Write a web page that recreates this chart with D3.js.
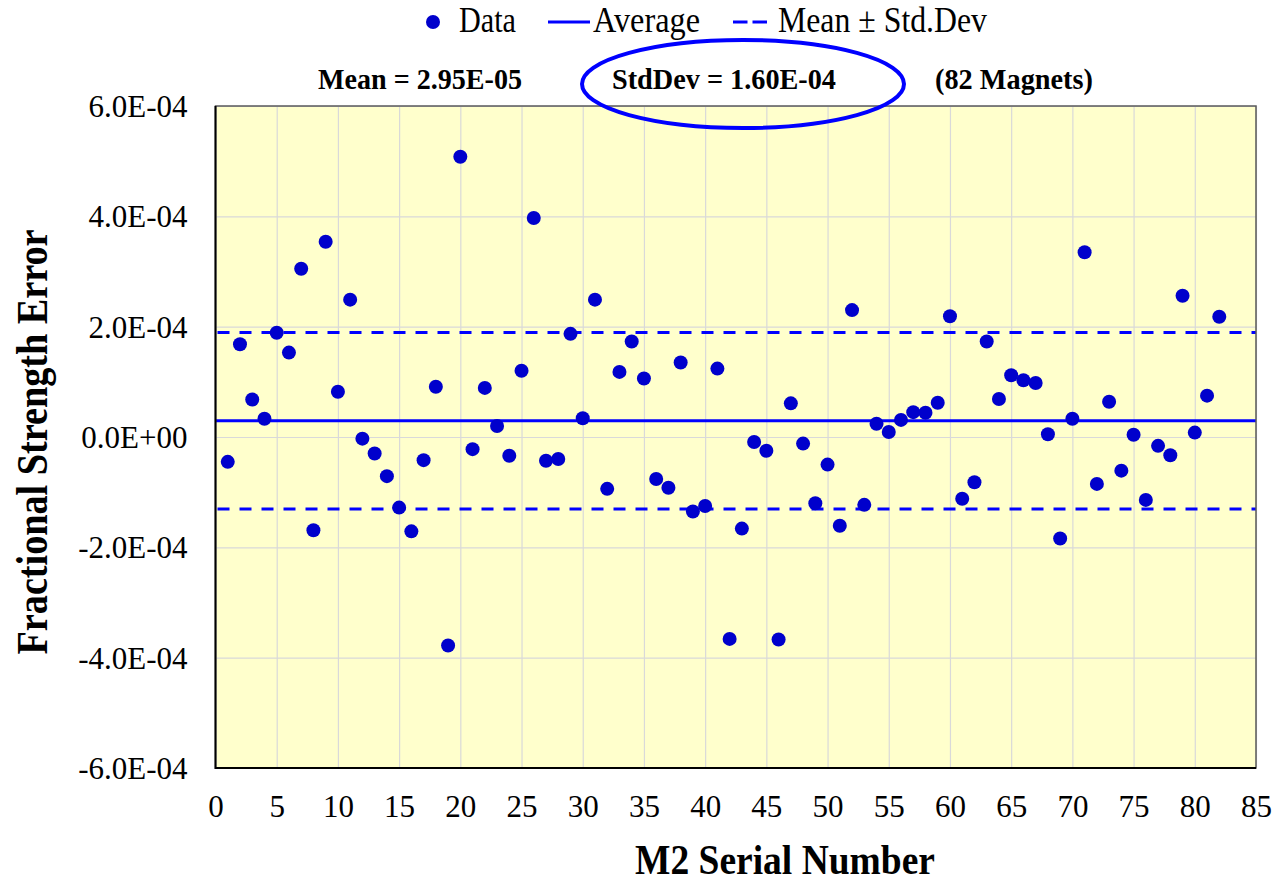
<!DOCTYPE html>
<html>
<head>
<meta charset="utf-8">
<title>M2 Fractional Strength Error</title>
<script src="https://cdn.jsdelivr.net/npm/d3@7"></script>
<style>
  body { margin: 0; background: #fff; }
  svg text { font-family: "Liberation Serif", "Times New Roman", "DejaVu Serif", serif; fill: #000; }
</style>
</head>
<body>
<div id="chart"></div>
<script>
// serial numbers 1..82
var serials = d3.range(1, 83);
// fractional strength error, in units of 1E-04
var errorE4 = [
  -0.45, 1.68, 0.68, 0.33, 1.89, 1.53, 3.05, -1.69, 3.54, 0.82,
   2.49, -0.03, -0.30, -0.71, -1.28, -1.71, -0.42, 0.91, -3.78, 5.08,
  -0.22, 0.89, 0.20, -0.34, 1.20, 3.97, -0.43, -0.40, 1.87, 0.34,
   2.49, -0.94, 1.18, 1.73, 1.06, -0.76, -0.92, 1.35, -1.35, -1.25,
   1.24, -3.66, -1.66, -0.09, -0.25, -3.67, 0.61, -0.12, -1.20, -0.50,
  -1.61, 2.30, -1.23, 0.24, 0.09, 0.31, 0.45, 0.44, 0.62, 2.19,
  -1.12, -0.82, 1.73, 0.69, 1.12, 1.03, 0.98, 0.05, -1.84, 0.33,
   3.35, -0.85, 0.64, -0.61, 0.04, -1.14, -0.16, -0.33, 2.56, 0.08,
   0.75, 2.18
];
var meanE4 = 0.295;   // Mean = 2.95E-05
var stdE4 = 1.60;     // StdDev = 1.60E-04

var xTicks = d3.range(0, 90, 5);
var yTicks = [-6, -4, -2, 0, 2, 4, 6];
var yTickLabels = ["-6.0E-04", "-4.0E-04", "-2.0E-04", "0.0E+00", "2.0E-04", "4.0E-04", "6.0E-04"];

var width = 1277, height = 884;
var plot = {left: 215.5, right: 1256, top: 106, bottom: 768};
var serif = "Liberation Serif";

var svg = d3.select("#chart").append("svg")
  .attr("width", width)
  .attr("height", height);

var x = d3.scaleLinear().domain([0, 85]).range([plot.left, plot.right]);
var y = d3.scaleLinear().domain([-6, 6]).range([plot.bottom, plot.top]);

// plot background
svg.append("rect")
  .attr("x", plot.left).attr("y", plot.top)
  .attr("width", plot.right - plot.left)
  .attr("height", plot.bottom - plot.top)
  .attr("fill", "#FFFFCC");

// gridlines
svg.append("g")
  .attr("transform", "translate(0," + plot.bottom + ")")
  .call(d3.axisBottom(x).tickValues(xTicks).tickSize(-(plot.bottom - plot.top)).tickFormat(""))
  .call(function(g) {
    g.select(".domain").remove();
    g.selectAll("line").attr("stroke", "#D9D9D9").attr("stroke-width", 1.2);
  });
svg.append("g")
  .attr("transform", "translate(" + plot.left + ",0)")
  .call(d3.axisLeft(y).tickValues(yTicks).tickSize(-(plot.right - plot.left)).tickFormat(""))
  .call(function(g) {
    g.select(".domain").remove();
    g.selectAll("line").attr("stroke", "#D9D9D9").attr("stroke-width", 1.2);
  });

// average and mean +/- std dev lines
svg.append("line")
  .attr("x1", plot.left).attr("x2", plot.right)
  .attr("y1", y(meanE4)).attr("y2", y(meanE4))
  .attr("stroke", "#0000FF").attr("stroke-width", 3);
[meanE4 + stdE4, meanE4 - stdE4].forEach(function(v) {
  svg.append("line")
    .attr("x1", plot.left + 2).attr("x2", plot.right)
    .attr("y1", y(v)).attr("y2", y(v))
    .attr("stroke", "#0000FF").attr("stroke-width", 3)
    .attr("stroke-dasharray", "12,10");
});

// data points
svg.append("g").selectAll("circle")
  .data(errorE4)
  .enter().append("circle")
    .attr("cx", function(d, i) { return x(serials[i]); })
    .attr("cy", function(d) { return y(d); })
    .attr("r", 7)
    .attr("fill", "#0000CC");

// plot border
svg.append("rect")
  .attr("x", plot.left).attr("y", plot.top)
  .attr("width", plot.right - plot.left)
  .attr("height", plot.bottom - plot.top)
  .attr("fill", "none")
  .attr("stroke", "#595959").attr("stroke-width", 1.5);
svg.append("path")
  .attr("d", "M" + plot.left + "," + plot.top + "V" + plot.bottom + "H" + plot.right)
  .attr("fill", "none")
  .attr("stroke", "#000").attr("stroke-width", 2);

// axes labels
svg.append("g")
  .attr("transform", "translate(0," + plot.bottom + ")")
  .attr("font-family", serif)
  .call(d3.axisBottom(x).tickValues(xTicks).tickSize(0).tickPadding(27))
  .call(function(g) {
    g.select(".domain").remove();
    g.selectAll("text").attr("font-size", 31).attr("fill", "#000");
  });
svg.append("g")
  .attr("transform", "translate(" + plot.left + ",0)")
  .call(d3.axisLeft(y).tickValues(yTicks).tickSize(0).tickPadding(28)
    .tickFormat(function(d, i) { return yTickLabels[i]; }))
  .attr("font-family", serif)
  .call(function(g) {
    g.select(".domain").remove();
    g.selectAll("text").attr("font-size", 31).attr("fill", "#000").attr("dy", "0.34em");
  });

// axis titles
svg.append("text")
  .attr("x", 785).attr("y", 874)
  .attr("text-anchor", "middle")
  .attr("font-size", 42).attr("font-weight", "bold")
  .attr("textLength", 300).attr("lengthAdjust", "spacingAndGlyphs")
  .text("M2 Serial Number");
svg.append("text")
  .attr("transform", "translate(47,442) rotate(-90)")
  .attr("text-anchor", "middle")
  .attr("font-size", 44).attr("font-weight", "bold")
  .attr("textLength", 425).attr("lengthAdjust", "spacingAndGlyphs")
  .text("Fractional Strength Error");

// legend
var legendY = 22;
svg.append("circle")
  .attr("cx", 433).attr("cy", legendY).attr("r", 7).attr("fill", "#0000CC");
svg.append("line")
  .attr("x1", 548).attr("x2", 590).attr("y1", legendY).attr("y2", legendY)
  .attr("stroke", "#0000FF").attr("stroke-width", 3);
svg.append("line")
  .attr("x1", 733).attr("x2", 767).attr("y1", legendY).attr("y2", legendY)
  .attr("stroke", "#0000FF").attr("stroke-width", 3)
  .attr("stroke-dasharray", "14.5,5");
var legendItems = [
  {label: "Data", x: 459, w: 57},
  {label: "Average", x: 593, w: 107},
  {label: "Mean \u00B1 Std.Dev", x: 778, w: 209}
];
legendItems.forEach(function(d) {
  svg.append("text")
    .attr("x", d.x).attr("y", 32)
    .attr("font-size", 35)
    .attr("textLength", d.w).attr("lengthAdjust", "spacingAndGlyphs")
    .text(d.label);
});

// statistics line
var stats = [
  {label: "Mean = 2.95E-05", x: 318, w: 204},
  {label: "StdDev = 1.60E-04", x: 612, w: 224},
  {label: "(82 Magnets)", x: 935, w: 158}
];
stats.forEach(function(d) {
  svg.append("text")
    .attr("x", d.x).attr("y", 89)
    .attr("font-size", 29).attr("font-weight", "bold")
    .attr("textLength", d.w).attr("lengthAdjust", "spacingAndGlyphs")
    .text(d.label);
});

// highlight ellipse around the std dev
svg.append("ellipse")
  .attr("cx", 743).attr("cy", 84)
  .attr("rx", 161).attr("ry", 44)
  .attr("fill", "none")
  .attr("stroke", "#0000FF").attr("stroke-width", 4);
</script>
</body>
</html>
